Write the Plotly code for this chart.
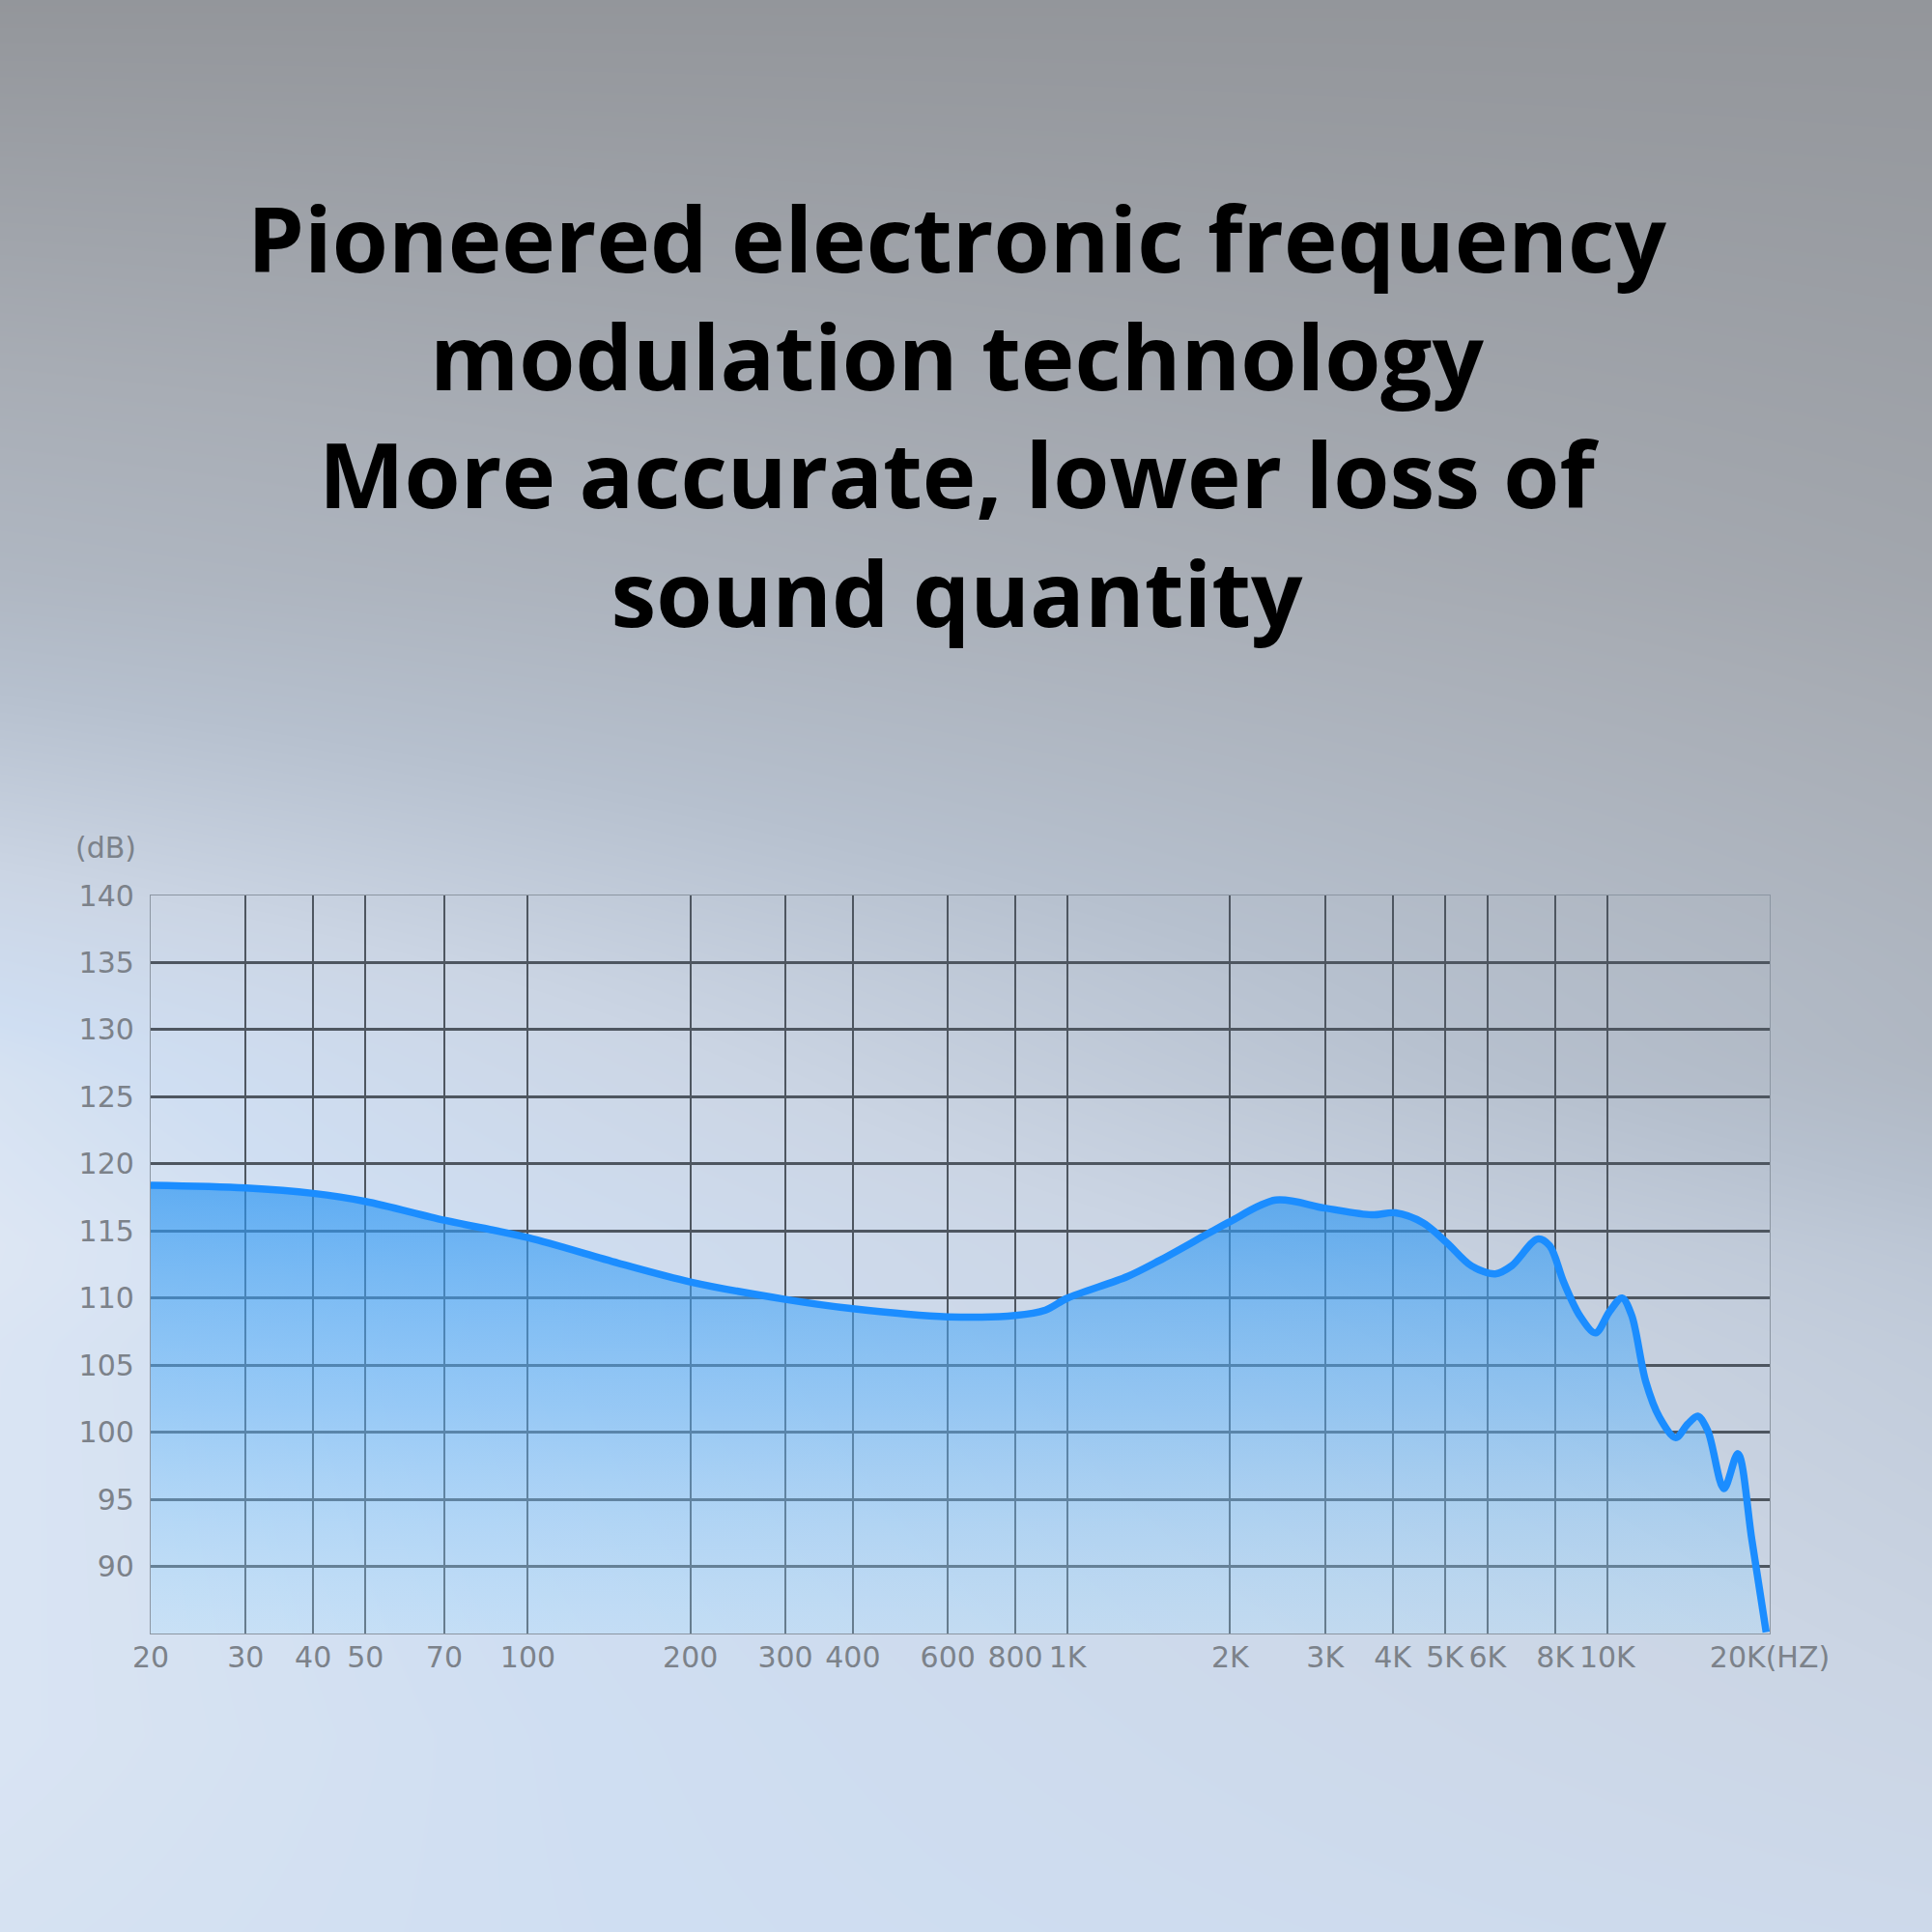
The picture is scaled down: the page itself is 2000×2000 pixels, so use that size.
import numpy as np
import plotly.graph_objects as go

# ---------------- data ----------------
freq_hz = [20, 30, 40, 50, 70, 100, 147, 200, 300, 400, 600, 800, 910, 1000,
           1290, 1480, 1820, 2000, 2430, 3000, 3660, 4050, 4560, 5050, 5600,
           6200, 6650, 7430, 7820, 8300, 8890, 9510, 10100, 10650, 11100,
           11780, 12500, 13390, 14090, 14710, 15360, 16450, 17460,
           18530, 19700]
spl_db = [118.4, 118.2, 117.8, 117.2, 115.8, 114.5, 112.6, 111.2, 109.9, 109.2,
          108.6, 108.7, 109.1, 110.0, 111.6, 112.8, 114.8, 115.7, 117.3, 116.7,
          116.2, 116.35, 115.6, 114.1, 112.4, 111.8, 112.4, 114.4, 113.9, 111.2,
          108.7, 107.4, 109.0, 110.0, 108.7, 103.8, 101.1, 99.6, 100.6, 101.2,
          100.1, 95.8, 98.4, 92.0, 85.1]

x_tick_vals = [20, 30, 40, 50, 70, 100, 200, 300, 400, 600, 800, 1000, 2000,
               3000, 4000, 5000, 6000, 8000, 10000, 20000]
x_tick_text = ["20", "30", "40", "50", "70", "100", "200", "300", "400", "600",
               "800", "1K", "2K", "3K", "4K", "5K", "6K", "8K", "10K", "20K(HZ)"]
y_tick_vals = [90, 95, 100, 105, 110, 115, 120, 125, 130, 135, 140]
y_tick_text = [str(v) for v in y_tick_vals]
y_unit_label = "(dB)"

title_lines = ["Pioneered electronic frequency",
               "modulation technology",
               "More accurate, lower loss of",
               "sound quantity"]

# ---------------- styles ----------------
TICK_COLOR = "rgb(124,130,138)"
GRID_COLOR = "rgb(78,86,96)"
FRAME_COLOR = "rgb(140,150,162)"
LINE_COLOR = "#1b8dff"
TICK_FONT = dict(family="DejaVu Sans", size=30, color=TICK_COLOR)

fig = go.Figure()

# background gradient (full page), drawn on its own hidden axes
nx, ny = 60, 60
gx = np.linspace(0, 1, nx)
gy = np.linspace(0, 1, ny)
base = np.interp(gy, [0, 0.3, 0.5, 0.65, 0.9, 1.0],
                 [0.06, 0.33, 0.63, 0.8, 0.86, 0.88])
lat = np.interp(gy, [0, 0.3, 0.55, 0.7, 0.9, 1.0],
                [0.0, 0.1, 0.25, 0.15, 0.1, 0.06])
Z = base[:, None] + lat[:, None] * (0.5 - gx[None, :]) * 2
bg_scale = [[0.0, "rgb(142,144,148)"], [0.3, "rgb(168,173,181)"],
            [0.55, "rgb(182,192,206)"], [0.75, "rgb(203,213,228)"],
            [0.9, "rgb(207,222,242)"], [1.0, "rgb(224,232,243)"]]
fig.add_trace(go.Heatmap(x=gx, y=gy, z=Z, colorscale=bg_scale, zmin=0, zmax=1,
                         zsmooth="best", showscale=False, hoverinfo="skip",
                         xaxis="x", yaxis="y"))

# frequency response curve
fig.add_trace(go.Scatter(
    x=freq_hz, y=spl_db, mode="lines",
    line=dict(color=LINE_COLOR, width=7.5, shape="spline", smoothing=0.9),
    fill="tozeroy",
    fillgradient=dict(type="vertical", start=85, stop=118.5,
                      colorscale=[[0.0, "rgba(165,220,255,0.28)"],
                                  [0.5, "rgba(95,180,250,0.50)"],
                                  [1.0, "rgba(40,148,242,0.68)"]]),
    hoverinfo="skip", xaxis="x2", yaxis="y2"))

fig.update_layout(
    width=2000, height=2000,
    margin=dict(l=0, r=0, t=0, b=0, pad=0),
    paper_bgcolor="rgb(190,198,210)",
    plot_bgcolor="rgba(0,0,0,0)",
    showlegend=False,
    xaxis=dict(domain=[0, 1], range=[0, 1], visible=False, fixedrange=True,
               automargin=False),
    yaxis=dict(domain=[0, 1], range=[1, 0], visible=False, fixedrange=True,
               automargin=False),
    xaxis2=dict(type="log", domain=[0.078, 0.916],
                range=[np.log10(20), np.log10(20000)],
                tickmode="array", tickvals=x_tick_vals, ticktext=x_tick_text,
                showgrid=True, gridcolor=GRID_COLOR, gridwidth=2.2,
                zeroline=False, showline=True, mirror=True,
                linecolor=FRAME_COLOR, linewidth=1.3, ticks="",
                ticklabelstandoff=-2, layer="below traces", automargin=False,
                tickfont=TICK_FONT, anchor="y2"),
    yaxis2=dict(domain=[0.1545, 0.5365], range=[85, 140],
                tickmode="array", tickvals=y_tick_vals, ticktext=y_tick_text,
                showgrid=True, gridcolor=GRID_COLOR, gridwidth=2.5,
                zeroline=False, showline=True, mirror=True,
                linecolor=FRAME_COLOR, linewidth=1.3, ticks="",
                ticklabelstandoff=10, layer="below traces", automargin=False,
                tickfont=TICK_FONT, anchor="x2"),
    annotations=[
        dict(text="<br>".join(title_lines), x=0.495, y=0.785,
             xref="paper", yref="paper", showarrow=False,
             xanchor="center", yanchor="middle", align="center",
             font=dict(family="Open Sans", size=94, color="black", weight=700)),
        dict(text=y_unit_label, x=0.0545, y=0.5615, xref="paper", yref="paper",
             showarrow=False, xanchor="center", yanchor="middle",
             font=TICK_FONT),
    ],
)

fig.write_html("out.html")
